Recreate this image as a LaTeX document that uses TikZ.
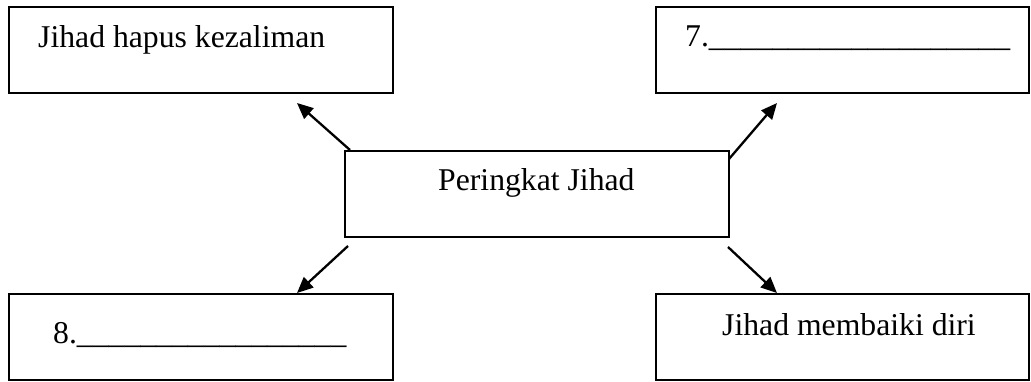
\documentclass[tikz,border=0pt]{standalone}
\usepackage{fontspec}
\setmainfont{Liberation Serif}
\usetikzlibrary{arrows.meta}
\begin{document}
\begin{tikzpicture}[x=1pt,y=-1pt,
  box/.style={draw=black, line width=2pt, minimum width=384pt, minimum height=86pt, inner sep=0pt, outer sep=0pt},
  lbl/.style={anchor=base west, inner sep=0pt, font=\fontsize{31.7}{38}\selectfont},
  arr/.style={line width=2.3pt, -{Triangle[length=16pt,width=14pt]}}]
\useasboundingbox (0,0) rectangle (1031,381);
\node[box] (tl) at (201,50) {};
\node[box, minimum width=373pt] (tr) at (842.5,50) {};
\node[box] (c) at (537,194) {};
\node[box] (bl) at (201,337) {};
\node[box, minimum width=373pt] (br) at (842.5,337) {};
\node[lbl] (tltext) at (38,47) {Jihad hapus kezaliman};
\node[lbl] (trtext) at (685,46) {7.\_\_\_\_\_\_\_\_\_\_\_\_\_\_\_\_\_\_\_};
\node[lbl] (ctext) at (438,190) {Peringkat Jihad};
\node[lbl] (bltext) at (53,343) {8.\_\_\_\_\_\_\_\_\_\_\_\_\_\_\_\_\_};
\node[lbl] (brtext) at (722,335) {Jihad membaiki diri};
\draw[arr] ([shift={(5,-1)}]c.north west) -- ([shift={(-96,10)}]tl.south east);
\draw[arr] ([shift={(0,8)}]c.north east) -- ([shift={(121,10)}]tr.south west);
\draw[arr] ([shift={(3,9)}]c.south west) -- ([shift={(-96,-1)}]bl.north east);
\draw[arr] ([shift={(-1,10)}]c.south east) -- ([shift={(121,-1)}]br.north west);
\end{tikzpicture}
\end{document}
